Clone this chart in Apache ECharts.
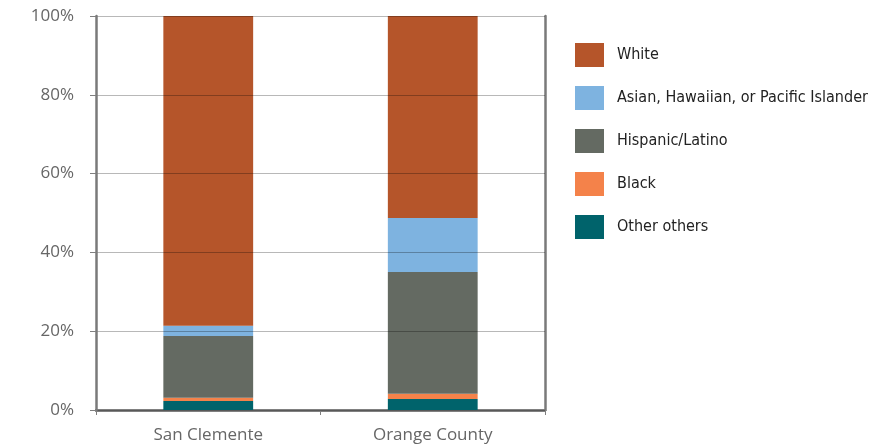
<!DOCTYPE html>
<html>
<head>
<meta charset="utf-8">
<script src="https://cdn.jsdelivr.net/npm/echarts@6/dist/echarts.min.js"></script>
<style>
html, body { margin: 0; padding: 0; background: #fff; }
#chart { width: 886px; height: 445px; }
</style>
</head>
<body>
<div id="chart"></div>
<script>
var myChart = echarts.init(document.getElementById('chart'));

// 数据
var places = ['San Clemente', 'Orange County'];
var legendOrder = ['White', 'Asian, Hawaiian, or Pacific Islander', 'Hispanic/Latino', 'Black', 'Other others'];
var other = [2.3, 2.8];
var black = [0.8, 1.3];
var hispanic = [15.7, 30.9];
var asian = [2.6, 13.7];
var white = [78.6, 51.3];
var yTicks = [0, 20, 40, 60, 80, 100];

var colors = {
	'White': '#b5552a',
	'Asian, Hawaiian, or Pacific Islander': '#7eb3e0',
	'Hispanic/Latino': '#646a62',
	'Black': '#f4824a',
	'Other others': '#00636b'
};

function bar(name, data) {
	return {
		name: name,
		type: 'bar',
		stack: 'total',
		barWidth: '40%',
		data: data,
		itemStyle: { color: colors[name] }
	};
}

var lineStyle = { color: '#7a7a7a', width: 2.5 };

myChart.setOption({
	animation: false,
	grid: { left: 96, right: 341, top: 16, bottom: 35 },
	legend: {
		orient: 'vertical',
		left: 575,
		top: 43,
		padding: 0,
		itemWidth: 29,
		itemHeight: 24,
		itemGap: 19,
		icon: 'rect',
		data: legendOrder,
		textStyle: {
			fontFamily: '"Liberation Sans Narrow", "DejaVu Sans Condensed", sans-serif',
			fontSize: 16,
			color: '#222',
			padding: [0, 0, 0, 8]
		}
	},
	xAxis: [{
		type: 'category',
		data: places,
		axisLine: { lineStyle: lineStyle },
		axisTick: { show: true, length: 5, lineStyle: { color: '#7f7f7f', width: 1 } },
		axisLabel: { fontFamily: 'Open Sans', fontSize: 17, color: '#666', margin: 17 }
	}, {
		type: 'category',
		position: 'top',
		data: places,
		axisLine: { lineStyle: lineStyle },
		axisTick: { show: false },
		axisLabel: { show: false }
	}],
	yAxis: [{
		type: 'value',
		min: 0,
		max: 100,
		interval: 20,
		z: 3,
		axisLine: { show: true, lineStyle: lineStyle },
		axisTick: { show: true, length: 6, lineStyle: { color: '#7f7f7f', width: 1 } },
		axisLabel: {
			fontFamily: 'Open Sans',
			fontSize: 17,
			color: '#666',
			margin: 22,
			formatter: function (v) { return yTicks.indexOf(v) >= 0 ? v + '%' : ''; }
		},
		splitLine: { show: true, lineStyle: { color: 'rgba(0,0,0,0.28)', width: 1 } }
	}, {
		type: 'value',
		position: 'right',
		min: 0,
		max: 100,
		interval: 20,
		axisLine: { show: true, lineStyle: lineStyle },
		axisTick: { show: false },
		axisLabel: { show: false },
		splitLine: { show: false }
	}],
	series: [
		bar('Other others', other),
		bar('Black', black),
		bar('Hispanic/Latino', hispanic),
		bar('Asian, Hawaiian, or Pacific Islander', asian),
		bar('White', white)
	]
});

window.addEventListener('resize', function () {
	myChart.resize();
});
</script>
</body>
</html>
